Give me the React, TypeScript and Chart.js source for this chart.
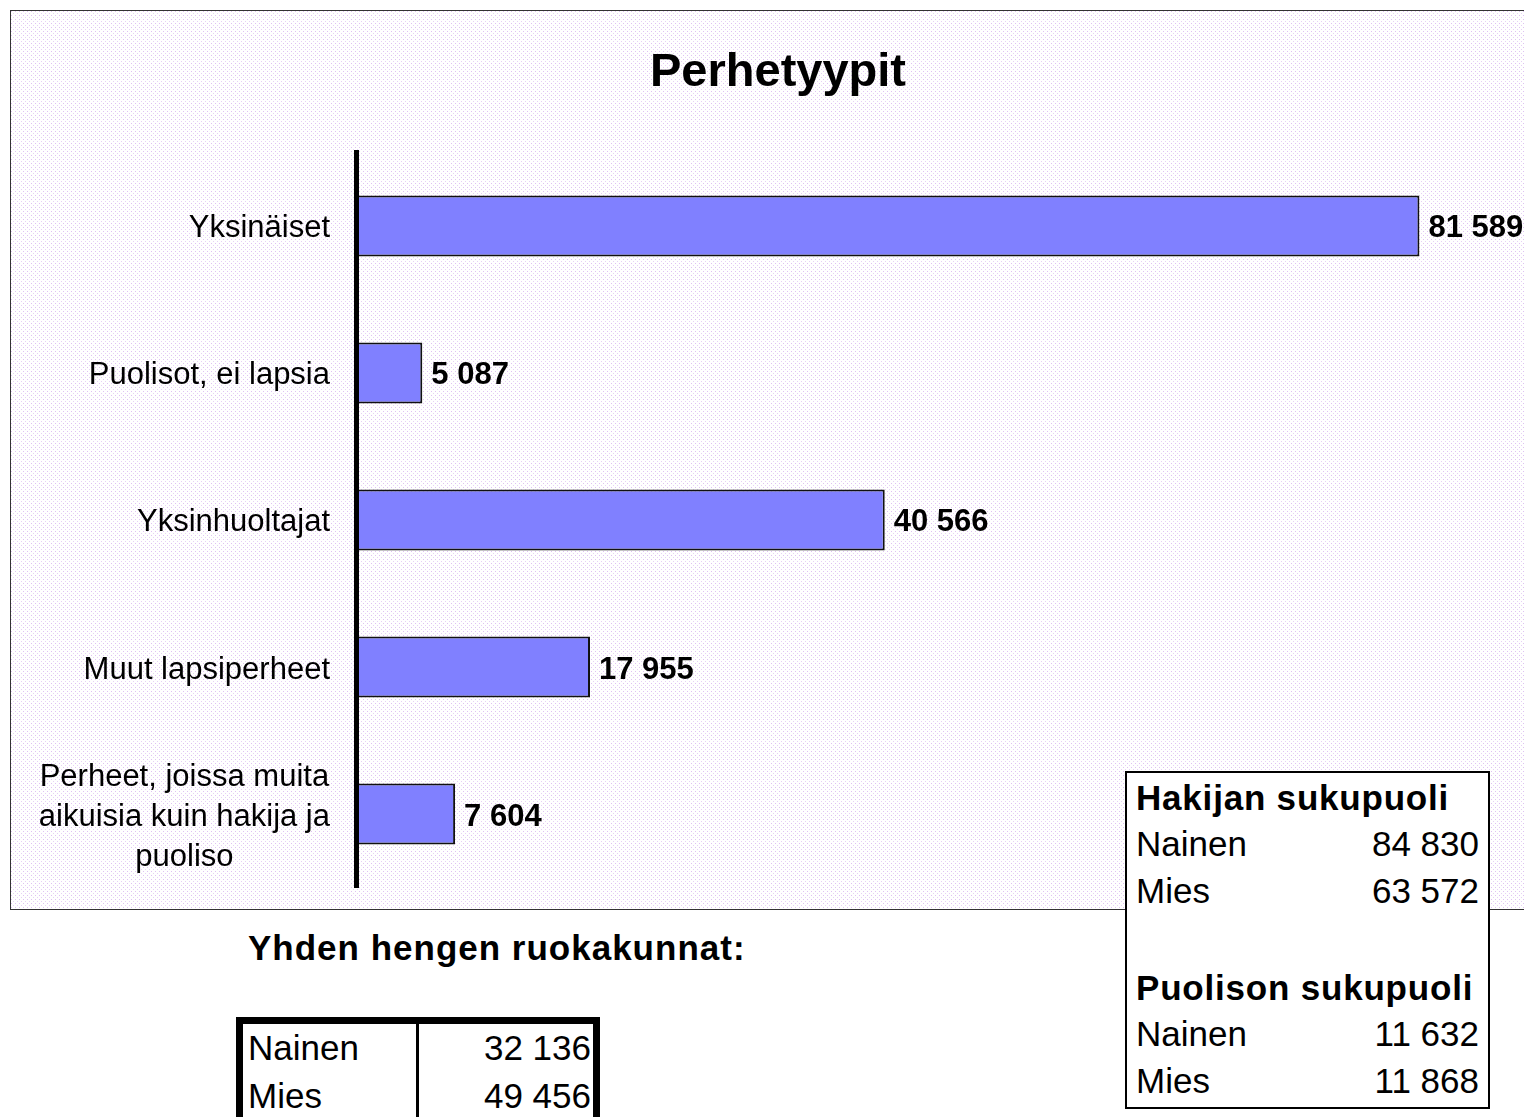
import React, { useEffect, useRef } from "react";
import { Chart, registerables } from "chart.js";

Chart.register(...registerables);

const categories: (string | string[])[] = [
  "Yksinäiset",
  "Puolisot, ei lapsia",
  "Yksinhuoltajat",
  "Muut lapsiperheet",
  ["Perheet, joissa muita", "aikuisia kuin hakija ja", "puoliso"],
];
const familyCounts = [81589, 5087, 40566, 17955, 7604];

const singleLabels = ["Nainen", "Mies"];
const singleCounts = [32136, 49456];

const applicantLabels = ["Nainen", "Mies"];
const applicantCounts = [84830, 63572];
const spouseLabels = ["Nainen", "Mies"];
const spouseCounts = [11632, 11868];

const FONT = '"Liberation Sans", Arial, sans-serif';

const fmt = (v: number) => String(v).replace(/\B(?=(\d{3})+(?!\d))/g, " ");

const dotPattern =
  "url(\"data:image/svg+xml;utf8," +
  encodeURIComponent(
    "<svg xmlns='http://www.w3.org/2000/svg' width='4' height='4' shape-rendering='crispEdges'>" +
      "<rect x='0' y='0' width='1' height='1' fill='#dfc2f2'/>" +
      "<rect x='2' y='2' width='1' height='1' fill='#e6d2f4'/>" +
      "</svg>"
  ) +
  "\")";

const labelPlugin = {
  id: "catLabels",
  afterDraw(chart: any) {
    const ctx = chart.ctx;
    const yScale = chart.scales.y;
    ctx.save();
    ctx.fillStyle = "#000";
    ctx.font = `31px ${FONT}`;
    ctx.textBaseline = "middle";
    const rightX = 320;
    const lh = 40;
    categories.forEach((c, i) => {
      const y = yScale.getPixelForTick(i) + 3;
      const lines = Array.isArray(c) ? c : [c];
      const widths = lines.map((l) => ctx.measureText(l).width);
      const maxW = Math.max(...widths);
      const cx = rightX - maxW / 2;
      lines.forEach((l, j) => {
        const ly = y + (j - (lines.length - 1) / 2) * lh;
        ctx.textAlign = "center";
        ctx.fillText(l, cx, ly);
      });
    });
    const meta = chart.getDatasetMeta(0);
    ctx.font = `bold 31px ${FONT}`;
    ctx.textAlign = "left";
    meta.data.forEach((el: any, i: number) => {
      ctx.fillText(fmt(familyCounts[i]), el.x + 9, el.y + 3);
    });
    ctx.restore();
  },
};

export default function App() {
  const ref = useRef<HTMLCanvasElement>(null);
  useEffect(() => {
    if (!ref.current) return;
    const chart = new Chart(ref.current, {
      type: "bar",
      data: {
        labels: categories as any,
        datasets: [
          {
            data: familyCounts,
            backgroundColor: "#8080FF",
            borderColor: "#111",
            borderWidth: 2,
            categoryPercentage: 1,
            barPercentage: 0.415,
          },
        ],
      },
      options: {
        indexAxis: "y",
        animation: false,
        responsive: false,
        layout: { padding: { top: 0, right: 0, bottom: 22.5, left: 0 } },
        plugins: {
          legend: { display: false },
          tooltip: { enabled: false },
          title: {
            display: true,
            text: "Perhetyypit",
            color: "#000",
            font: { family: FONT, size: 47, weight: "bold" },
            padding: { top: 35, bottom: 51 },
          },
        },
        scales: {
          x: { display: false, min: 0, max: 91300 },
          y: {
            display: true,
            position: "left",
            z: 1,
            grid: { display: false, drawTicks: false },
            ticks: { display: false },
            border: { display: true, width: 5, color: "#000", z: 2 },
            afterFit: (s: any) => {
              s.width = 346;
            },
          },
        },
      } as any,
      plugins: [labelPlugin],
    });
    return () => chart.destroy();
  }, []);

  const textBase: React.CSSProperties = {
    position: "absolute",
    fontFamily: FONT,
    fontSize: 35,
    color: "#000",
    whiteSpace: "nowrap",
    height: 47,
    lineHeight: "47px",
  };

  const boxRows: { label: string; value?: number; bold?: boolean; cy: number }[] = [
    { label: "Hakijan sukupuoli", bold: true, cy: 797 },
    { label: applicantLabels[0], value: applicantCounts[0], cy: 843 },
    { label: applicantLabels[1], value: applicantCounts[1], cy: 890 },
    { label: "Puolison sukupuoli", bold: true, cy: 987 },
    { label: spouseLabels[0], value: spouseCounts[0], cy: 1033 },
    { label: spouseLabels[1], value: spouseCounts[1], cy: 1080 },
  ];

  return (
    <div
      style={{
        position: "absolute",
        left: 0,
        top: 0,
        width: 1524,
        height: 1117,
        overflow: "hidden",
        background: "#fff",
      }}
    >
      <div
        style={{
          position: "absolute",
          left: 10,
          top: 10,
          width: 1560,
          height: 900,
          boxSizing: "border-box",
          border: "1px solid #333",
          backgroundColor: "#fff",
          backgroundImage: dotPattern,
          backgroundSize: "4px 4px",
        }}
      />
      <canvas
        ref={ref}
        width={1536}
        height={900}
        style={{ position: "absolute", left: 10, top: 10, width: 1536, height: 900 }}
      />
      <div
        style={{
          ...textBase,
          left: 248,
          top: 947 - 23.5,
          fontWeight: "bold",
          letterSpacing: 1,
        }}
      >
        Yhden hengen ruokakunnat:
      </div>

      <div
        style={{
          position: "absolute",
          left: 236,
          top: 1017,
          width: 364,
          height: 140,
          boxSizing: "border-box",
          borderTop: "7px solid #000",
          borderLeft: "7px solid #000",
          borderRight: "7px solid #000",
          background: "#fff",
        }}
      />
      <div
        style={{ position: "absolute", left: 416, top: 1020, width: 3, height: 140, background: "#000" }}
      />
      {singleLabels.map((l, i) => (
        <React.Fragment key={l}>
          <div style={{ ...textBase, left: 248, top: [1047, 1095][i] - 23.5 }}>{l}</div>
          <div
            style={{
              ...textBase,
              left: 420,
              width: 171,
              textAlign: "right",
              top: [1047, 1095][i] - 23.5,
            }}
          >
            {fmt(singleCounts[i])}
          </div>
        </React.Fragment>
      ))}

      <div
        style={{
          position: "absolute",
          left: 1125,
          top: 771,
          width: 365,
          height: 338,
          boxSizing: "border-box",
          border: "2px solid #000",
          background: "#fff",
        }}
      />
      {boxRows.map((r, i) => (
        <React.Fragment key={i}>
          <div
            style={{
              ...textBase,
              left: 1136,
              top: r.cy - 23.5,
              fontWeight: r.bold ? "bold" : "normal",
              letterSpacing: r.bold ? 0.8 : 0,
            }}
          >
            {r.label}
          </div>
          {r.value !== undefined && (
            <div style={{ ...textBase, left: 1300, width: 179, textAlign: "right", top: r.cy - 23.5 }}>
              {fmt(r.value)}
            </div>
          )}
        </React.Fragment>
      ))}
    </div>
  );
}
